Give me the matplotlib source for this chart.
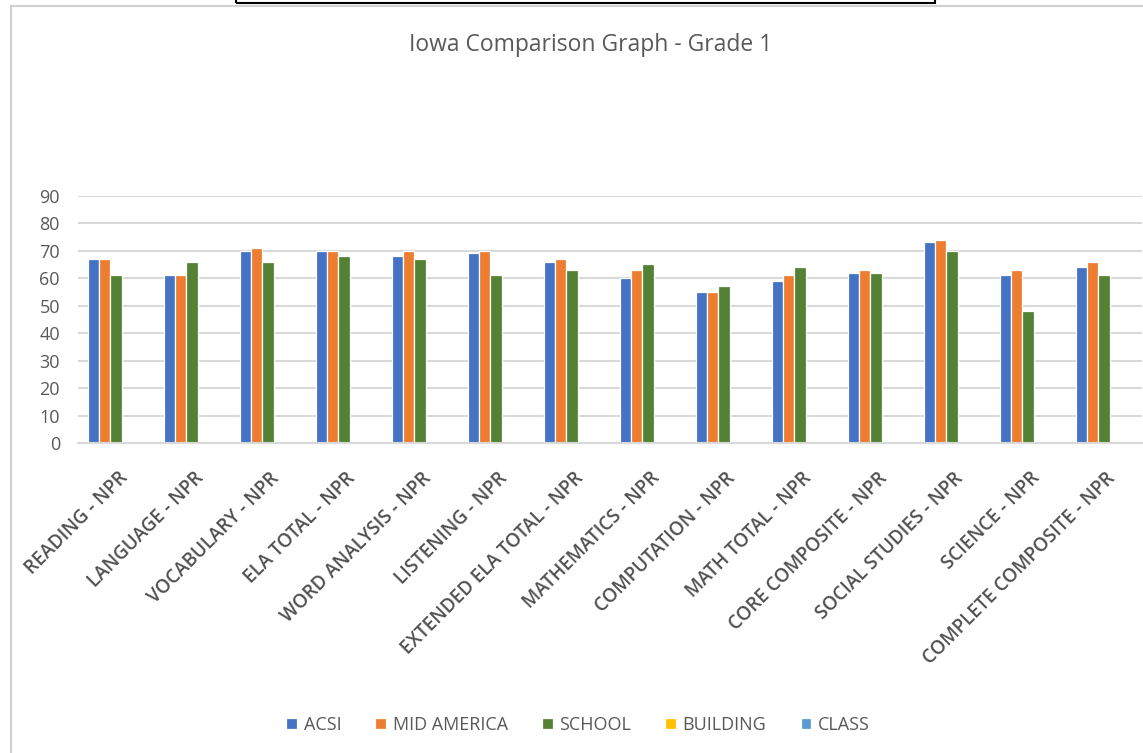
import matplotlib
matplotlib.use("Agg")
import matplotlib.pyplot as plt
import matplotlib.patches as mpatches
import numpy as np

categories = ["READING - NPR", "LANGUAGE - NPR", "VOCABULARY - NPR", "ELA TOTAL - NPR",
              "WORD ANALYSIS - NPR", "LISTENING - NPR", "EXTENDED ELA TOTAL - NPR",
              "MATHEMATICS - NPR", "COMPUTATION - NPR", "MATH TOTAL - NPR",
              "CORE COMPOSITE - NPR", "SOCIAL STUDIES - NPR", "SCIENCE - NPR",
              "COMPLETE COMPOSITE - NPR"]
acsi = [67, 61, 70, 70, 68, 69, 66, 60, 55, 59, 62, 73, 61, 64]
mid_america = [67, 61, 71, 70, 70, 70, 67, 63, 55, 61, 63, 74, 63, 66]
school = [61, 66, 66, 68, 67, 61, 63, 65, 57, 64, 62, 70, 48, 61]
building = [np.nan] * len(categories)
klass = [np.nan] * len(categories)
series_names = ["ACSI", "MID AMERICA", "SCHOOL", "BUILDING", "CLASS"]
series_vals = [acsi, mid_america, school, building, klass]
colors = ["#4472C4", "#ED7D31", "#548235", "#FFC000", "#5B9BD5"]
yticks = [0, 10, 20, 30, 40, 50, 60, 70, 80, 90]

W, H = 1143, 753
fig = plt.figure(figsize=(W / 100, H / 100), dpi=100)
plt.rcParams['font.family'] = ['Open Sans', 'DejaVu Sans']
text_color = "#595959"
grid_color = "#D9D9D9"

# chart frame and clipped document element at top
fig.patches.append(mpatches.Rectangle((11 / W, -0.01), 1.1, 1 - 6 / H + 0.01, transform=fig.transFigure,
                                      fill=False, edgecolor="#D0D0D0", linewidth=1.5))
fig.patches.append(mpatches.Rectangle((236 / W, 1 - 3 / H), 699 / W, 0.02, transform=fig.transFigure,
                                      fill=False, edgecolor="black", linewidth=1.5))

left, right = 78 / W, 1142 / W
bottom, top = 1 - 443.3 / H, 1 - 195.7 / H
ax = fig.add_axes([left, bottom, right - left, top - bottom])

x = np.arange(len(categories))
bw = 0.148
for i, (name, vals, c) in enumerate(zip(series_names, series_vals, colors)):
    ax.bar(x + (i - 2) * bw, vals, width=bw, color=c, edgecolor="white", linewidth=0.9,
           label=name, zorder=3)

ax.set_xlim(-0.5, len(categories) - 0.5)
ax.set_ylim(0, 90)
ax.set_yticks(yticks)
ax.yaxis.grid(True, color=grid_color, linewidth=1.5, zorder=0)
ax.set_axisbelow(True)
for s in ["top", "right", "left"]:
    ax.spines[s].set_visible(False)
ax.spines["bottom"].set_color(grid_color)
ax.spines["bottom"].set_linewidth(1.5)
ax.spines["bottom"].set_zorder(4)
ax.tick_params(axis="both", length=0, colors=text_color, labelsize=13)
ax.tick_params(axis="y", pad=13)
ax.set_xticks(x + 0.02)
ax.set_xticklabels(categories, rotation=45, ha="right", va="top", rotation_mode="anchor",
                   fontsize=13.5, color="#505050", fontweight="semibold")
ax.tick_params(axis="x", pad=18)

fig.text(591 / W, 1 - 45 / H, "Iowa Comparison Graph - Grade 1", ha="center", va="center",
         fontsize=16.5, color=text_color)

handles, labels = ax.get_legend_handles_labels()
leg = fig.legend(handles, labels, loc="center", bbox_to_anchor=(578 / W, 1 - 725 / H), ncol=5,
                 frameon=False, fontsize=13, handlelength=0.6, handleheight=0.6,
                 handletextpad=0.35, columnspacing=1.9, labelcolor=text_color)

fig.savefig("out.png", dpi=100)
